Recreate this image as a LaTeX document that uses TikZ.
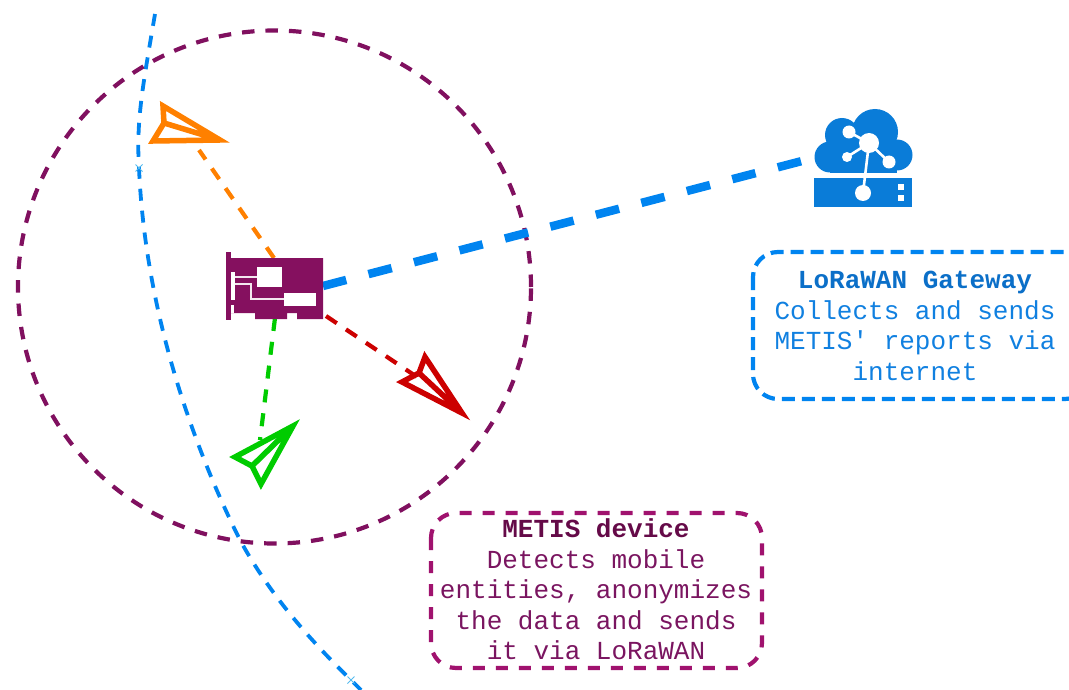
\documentclass[tikz,border=0pt]{standalone}
\usepackage{fontspec}
\setmonofont{Liberation Mono}
\definecolor{circpurple}{HTML}{80105F}
\definecolor{boxpurple}{HTML}{A0126E}
\definecolor{txtpurple}{HTML}{7A1560}
\definecolor{boldpurple}{HTML}{650A48}
\definecolor{icopurple}{HTML}{85105F}
\definecolor{linkblue}{HTML}{0084F0}
\definecolor{txtblue}{HTML}{1080E0}
\definecolor{boldblue}{HTML}{0B6FC8}
\definecolor{icoblue}{HTML}{0A7CD8}
\definecolor{markblue}{HTML}{55BBEE}
\definecolor{plorange}{HTML}{FF8000}
\definecolor{plgreen}{HTML}{00CC00}
\definecolor{plred}{HTML}{CC0000}
\tikzset{
  px/.style={x=1pt,y=-1pt},
  rangecircle/.style={draw=circpurple,line width=4.2pt,dash pattern=on 12.5pt off 11pt},
  infobox/.style={line width=4.2pt,rounded corners=25pt},
  infotext/.style={align=center,inner sep=0pt,font=\ttfamily\fontsize{26}{30.6}\selectfont},
  radiolink/.style={line width=4.2pt,dash pattern=on 13pt off 11pt},
  planeshape/.style={line width=5.5pt,line join=miter,miter limit=10},
  roadline/.style={draw=linkblue,line width=3.8pt,dash pattern=on 12pt off 10pt},
  crossmark/.style={draw=markblue,line width=0.8pt},
  whiteline/.style={draw=white!90!icopurple,line width=1.8pt},
}
\begin{document}
\begin{tikzpicture}[px]
\useasboundingbox (0,0) rectangle (1069,690);
\clip (0,0) rectangle (1069,690);
% road
\draw[roadline] (155,14) .. controls (143,85) and (136,120) .. (139,168)
  .. controls (146,330) and (205,470) .. (240,540)
  .. controls (270,595) and (310,640) .. (351,680) -- (361,690);
\coordinate (markA) at (139,168);
\coordinate (markB) at (351,680);
\draw[crossmark] ([shift={(-3.5,-3.5)}]markA) -- ([shift={(3.5,3.5)}]markA);
\draw[crossmark] ([shift={(-3.5,3.5)}]markA) -- ([shift={(3.5,-3.5)}]markA);
\draw[crossmark] ([shift={(-3.5,-3.5)}]markB) -- ([shift={(3.5,3.5)}]markB);
\draw[crossmark] ([shift={(-3.5,3.5)}]markB) -- ([shift={(3.5,-3.5)}]markB);
% range circle
\node[circle,minimum size=513pt,inner sep=0pt,rangecircle] (range) at (274.5,287) {};
% anchors
\coordinate (devT) at (274,258);
\coordinate (devB) at (275,318);
\coordinate (devBR) at (326,316);
\coordinate (devR) at (323,286);
\coordinate (planeO) at (199,150);
\coordinate (planeG) at (260,440);
\coordinate (planeR) at (420,379);
\coordinate (gwL) at (802,161);
% links
\draw[radiolink,plorange] (devT) -- (planeO);
\draw[radiolink,plgreen] (devB) -- (planeG);
\draw[radiolink,plred] (devBR) -- (planeR);
\draw[linkblue,line width=8.5pt,dash pattern=on 24pt off 23pt] (devR) -- (gwL);
% planes
\draw[planeshape,plorange] (163,106) -- (220,140) -- (153,141) -- (164,123) -- cycle (164,123) -- (220,140);
\draw[planeshape,plgreen] (293,426) -- (261,484) -- (252,466) -- (235,457) -- cycle (252,466) -- (293,426);
\draw[planeshape,plred] (425,357) -- (462,413) -- (402,382) -- (419,373) -- cycle (419,373) -- (462,413);
% device icon
\fill[icopurple] (226,252) rectangle (231,320);
\fill[icopurple] (231,258) -- (323,258) -- (323,319) -- (297,319) -- (297,313) -- (287,313) -- (287,319) -- (255,319) -- (255,313) -- (231,313) -- cycle;
\fill[white] (257,267) rectangle (282,287);
\fill[white] (284,293) rectangle (316,306);
\fill[white] (231,272) rectangle (235,300);
\fill[white] (231,305) rectangle (234,313);
\draw[whiteline] (235,277) -- (257,277);
\draw[whiteline] (235,284) -- (251,284) -- (251,299) -- (284,299);
% gateway icon
\fill[icoblue] (875,132) circle[radius=23];
\fill[icoblue] (842,135) circle[radius=17];
\fill[icoblue] (830,157) circle[radius=15.5];
\fill[icoblue] (897,155) circle[radius=15.5];
\fill[icoblue] (830,145) rectangle (897,173.5);
\fill[icoblue] (814,178) rectangle (912,207);
\fill[white] (898,184) rectangle (904,190);
\fill[white] (898,195) rectangle (904,201);
\draw[white,line width=2.6pt] (869,143) -- (849,132) (869,143) -- (847,157) (869,143) -- (889,162) (869,143) -- (863,193);
\fill[white] (869,143) circle[radius=10];
\fill[white] (849,132) circle[radius=6.5];
\fill[white] (847,157) circle[radius=5];
\fill[white] (889,162) circle[radius=6.5];
\fill[white] (863,193) circle[radius=8];
% boxes
\draw[infobox,linkblue,dash pattern=on 13pt off 7pt] (753,252) rectangle (1090,399);
\draw[infobox,boxpurple,dash pattern=on 12pt off 11pt] (431,513) rectangle (762,668);
\node[infotext,text=txtblue] (gwtext) at (915,326) {{\bfseries\color{boldblue}LoRaWAN Gateway}\\Collects and sends\\METIS' reports via\\internet};
\node[infotext,text=txtpurple] (devtext) at (596,589.5) {{\bfseries\color{boldpurple}METIS device}\\Detects mobile\\entities, anonymizes\\the data and sends\\it via LoRaWAN};
\end{tikzpicture}
\end{document}
